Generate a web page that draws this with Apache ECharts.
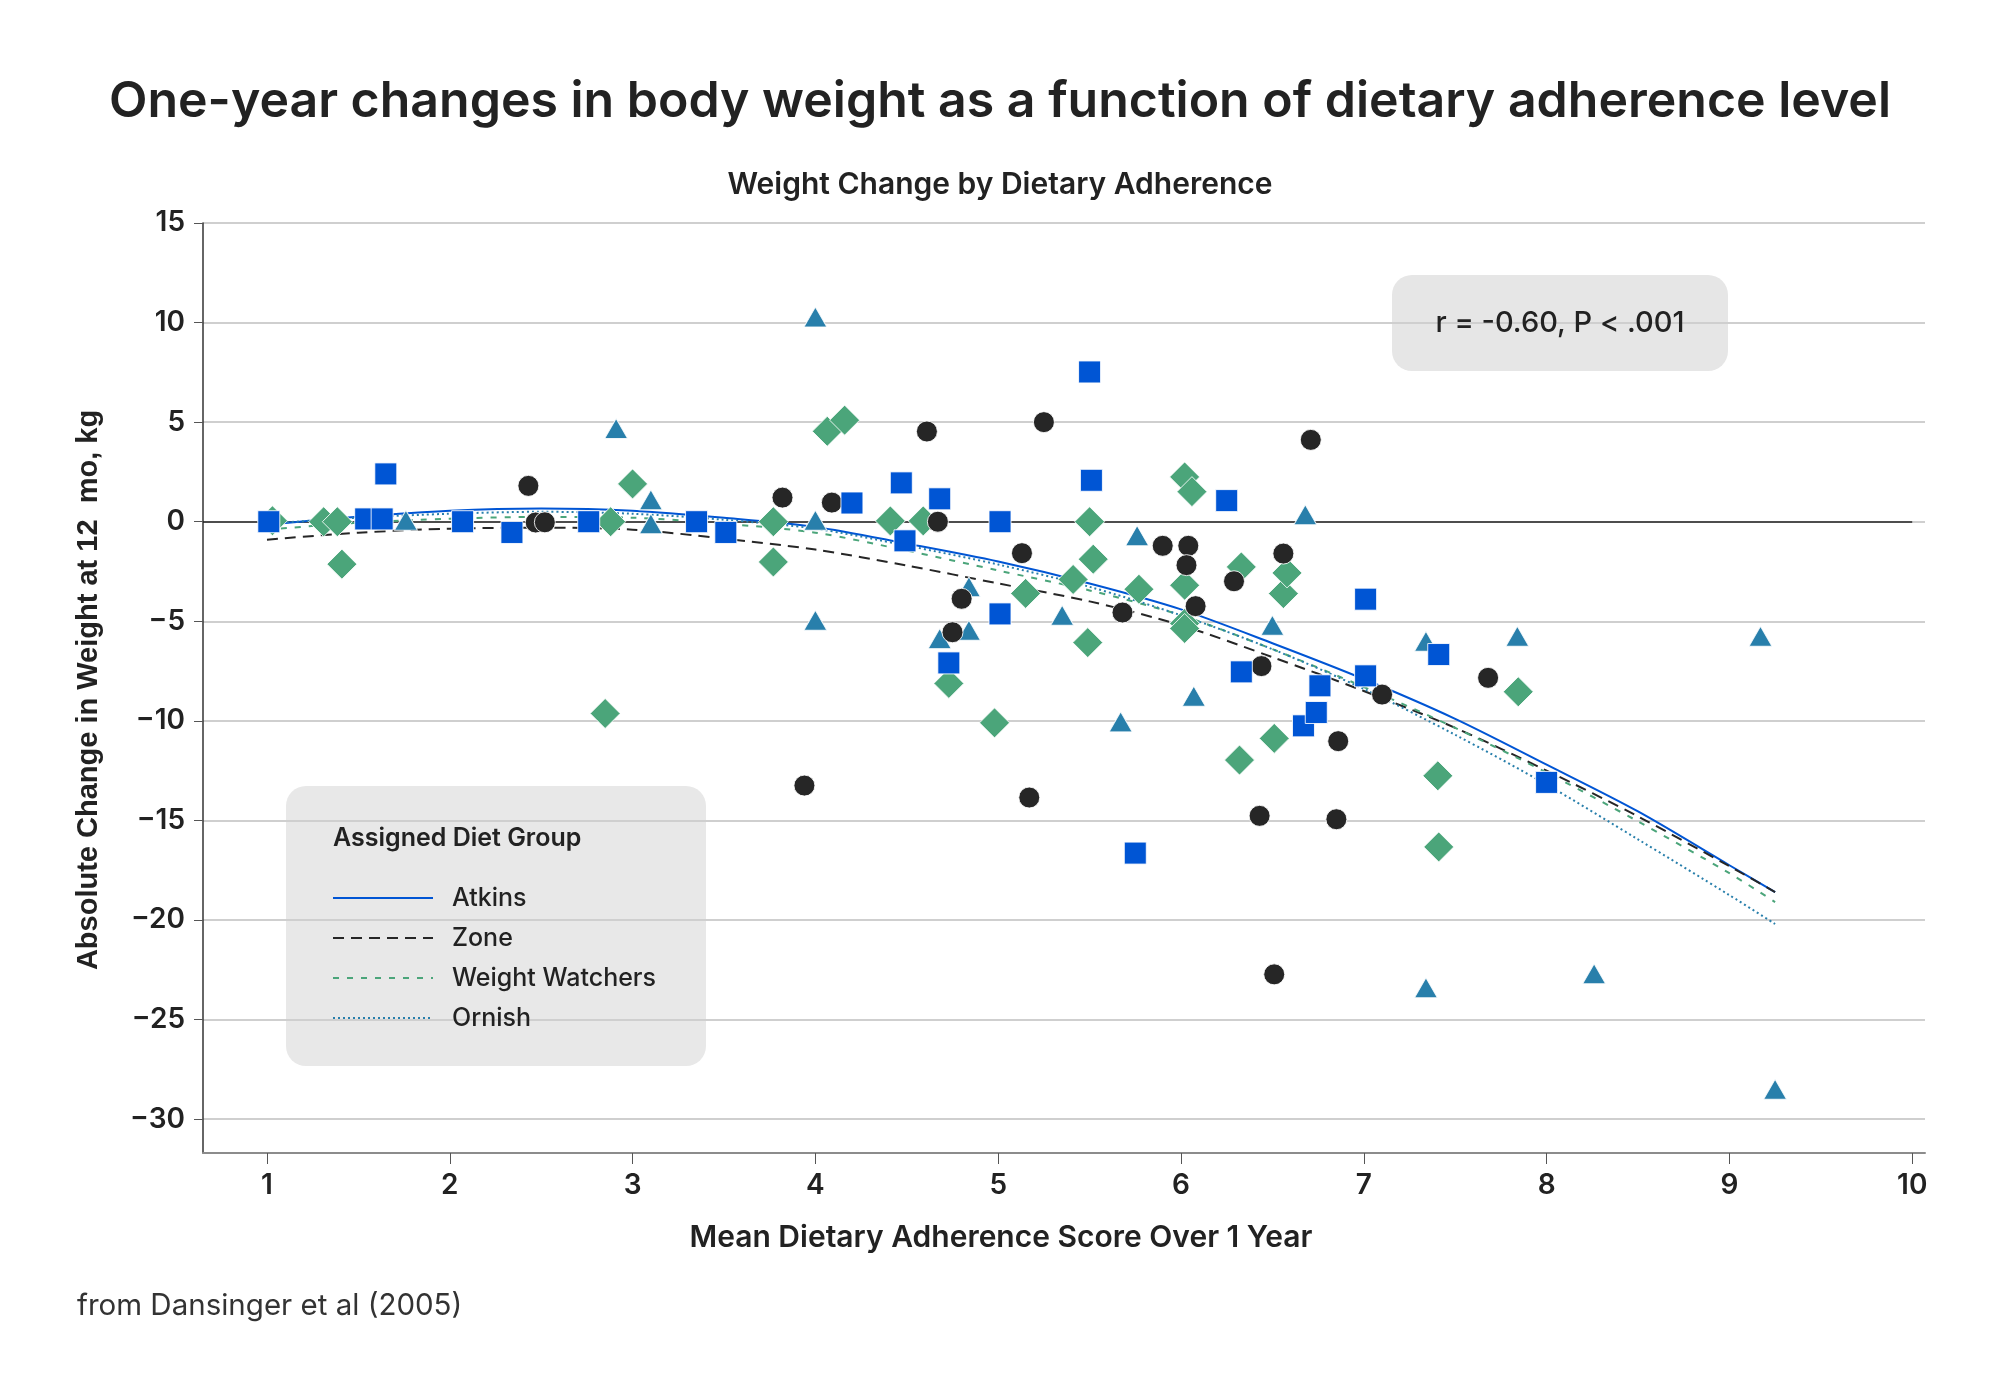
<!DOCTYPE html>
<html><head><meta charset="utf-8">
<script src="https://cdn.jsdelivr.net/npm/echarts@6/dist/echarts.min.js"></script>
<style>html,body{margin:0;padding:0;background:#fff}#chart{width:2000px;height:1393px}</style>
</head><body><div id="chart"></div>
<script>
// ---- data ----
const atkinsPoints = [[1.01,0],[1.54,0.14],[1.63,0.14],[1.65,2.4],[2.07,0],[2.34,-0.54],[2.76,0],[3.35,0],[3.51,-0.54],[4.2,0.94],[4.47,1.95],[4.49,-0.96],[4.68,1.15],[4.73,-7.09],[5.01,0],[5.01,-4.63],[5.5,7.52],[5.51,2.08],[5.75,-16.64],[6.25,1.06],[6.33,-7.54],[6.67,-10.25],[6.74,-9.58],[6.76,-8.24],[7.01,-3.89],[7.01,-7.74],[7.41,-6.67],[8.0,-13.09]];
const zonePoints = [[2.43,1.8],[2.47,-0.04],[2.52,-0.03],[3.82,1.21],[3.94,-13.25],[4.09,0.96],[4.61,4.53],[4.67,0],[4.75,-5.55],[4.8,-3.87],[5.13,-1.58],[5.17,-13.85],[5.25,5.0],[5.68,-4.56],[5.9,-1.21],[6.04,-1.21],[6.03,-2.18],[6.08,-4.24],[6.29,-2.99],[6.44,-7.25],[6.43,-14.77],[6.51,-22.73],[6.56,-1.6],[6.71,4.11],[6.86,-11.02],[6.85,-14.94],[7.1,-8.68],[7.68,-7.84]];
const weightWatchersPoints = [[1.03,0.05],[1.31,0],[1.385,0],[1.41,-2.13],[2.85,-9.63],[2.88,0],[3.0,1.9],[3.77,0],[3.77,-2.02],[4.065,4.54],[4.16,5.1],[4.41,0.04],[4.59,0.04],[4.73,-8.12],[4.98,-10.1],[5.15,-3.6],[5.41,-2.9],[5.5,0],[5.49,-6.07],[5.52,-1.88],[5.77,-3.39],[6.02,2.25],[6.06,1.51],[6.02,-3.19],[6.02,-5.11],[6.02,-5.36],[6.32,-11.97],[6.33,-2.27],[6.51,-10.88],[6.56,-3.61],[6.58,-2.57],[7.405,-12.76],[7.41,-16.33],[7.845,-8.54]];
const ornishPoints = [[1.76,0.07],[2.91,4.68],[3.1,1.1],[3.1,-0.1],[4.0,10.28],[4.0,0.07],[4.0,-4.95],[4.68,-5.87],[4.84,-3.27],[4.84,-5.45],[5.35,-4.7],[5.67,-10.05],[5.76,-0.7],[6.07,-8.76],[6.5,-5.2],[6.68,0.35],[7.34,-6.0],[7.34,-23.4],[7.84,-5.75],[8.26,-22.7],[9.17,-5.75],[9.25,-28.5]];

const fitX = [1,1.5,2,2.5,3,3.5,4,4.5,5,5.5,6,6.5,7,7.5,8,8.5,9,9.25];
const atkinsFit = [-0.15,0.25,0.55,0.66,0.55,0.2,-0.26,-1.1,-2.0,-3.1,-4.4,-6.1,-7.9,-9.9,-12.2,-14.55,-17.25,-18.6];
const zoneFit = [-0.9,-0.55,-0.35,-0.3,-0.4,-0.85,-1.4,-2.2,-3.1,-4.0,-5.2,-6.8,-8.5,-10.35,-12.5,-14.8,-17.3,-18.6];
const weightWatchersFit = [-0.4,-0.05,0.15,0.24,0.2,-0.1,-0.55,-1.45,-2.45,-3.45,-4.7,-6.4,-8.3,-10.35,-12.6,-15.05,-17.65,-19.1];
const ornishFit = [-0.1,0.2,0.4,0.5,0.4,0.1,-0.35,-1.2,-2.15,-3.27,-4.7,-6.4,-8.4,-10.7,-13.2,-15.95,-18.75,-20.2];

const groupNames = ['Atkins','Zone','Weight Watchers','Ornish'];
const xTicks = [1,2,3,4,5,6,7,8,9,10];
const yTicks = [-30,-25,-20,-15,-10,-5,0,5,10,15];
const xRange = [0.65, 10.07];
const yRange = [-31.7, 15];

// ---- styles ----
const FONT = 'Inter, "Noto Sans", sans-serif';
const TXT = '#222222';
const C_ATK = '#0055d4', C_ZONE = '#262626', C_WW = '#4ba57a', C_ORN = '#287fab';

const zip = (xs, ys) => xs.map((x, i) => [x, ys[i]]);
const minusFmt = v => String(v).replace('-', '\u2212');

const lineSeries = (name, ys, color, type, width, z) => ({
  name, type: 'line', data: zip(fitX, ys), smooth: 0.3, symbol: 'none', z,
  lineStyle: { color, type, width }, itemStyle: { color }, silent: true
});
const scatterSeries = (name, pts, color, symbol, size) => ({
  name: name + ' data', type: 'scatter', data: pts, symbol, symbolSize: size, z: 5,
  itemStyle: { color, opacity: 1, borderColor: 'rgba(255,255,255,0.85)', borderWidth: 1 }, silent: true
});

const chart = echarts.init(document.getElementById('chart'));
chart.setOption({
  animation: false,
  backgroundColor: '#ffffff',
  textStyle: { fontFamily: FONT },
  title: [
    { text: 'One-year changes in body weight as a function of dietary adherence level', left: 'center', top: 72,
      textStyle: { fontFamily: FONT, fontSize: 50, fontWeight: 600, color: TXT } },
    { text: 'Weight Change by Dietary Adherence', left: 'center', top: 165,
      textStyle: { fontFamily: FONT, fontSize: 30, fontWeight: 600, color: TXT } }
  ],
  grid: { left: 203, right: 75, top: 223, bottom: 240, containLabel: false },
  xAxis: {
    type: 'value', min: xRange[0], max: xRange[1],
    axisLine: { show: true, onZero: false, lineStyle: { color: '#8c8c8c', width: 2 } },
    axisTick: { show: true, customValues: xTicks, length: 11, lineStyle: { color: '#555', width: 1 } },
    axisLabel: { show: true, customValues: xTicks, fontSize: 28, fontWeight: 600, color: TXT, margin: 19, fontFamily: FONT },
    splitLine: { show: false }
  },
  yAxis: {
    type: 'value', min: yRange[0], max: yRange[1],
    axisLine: { show: true, onZero: false, lineStyle: { color: '#333', width: 1.5 } },
    axisTick: { show: true, customValues: yTicks, length: 9, lineStyle: { color: '#555', width: 1 } },
    axisLabel: { show: true, customValues: yTicks, formatter: minusFmt, fontSize: 28, fontWeight: 600, color: TXT, margin: 18, fontFamily: FONT },
    splitLine: { show: true, lineStyle: { color: '#cfcfcf', width: 2 } }
  },
  legend: {
    data: groupNames, orient: 'vertical', left: 332, top: 885,
    itemWidth: 100, itemHeight: 14, itemGap: 14, padding: 0,
    itemStyle: { opacity: 0, borderWidth: 0 },
    textStyle: { fontFamily: FONT, fontSize: 25, fontWeight: 500, color: TXT, lineHeight: 26, padding: [0,0,0,14] },
    selectedMode: false
  },
  graphic: [
    { type: 'rect', left: 286, top: 786, z: 0, silent: true,
      shape: { width: 420, height: 280, r: 20 }, style: { fill: '#e8e8e8' } },
    { type: 'text', left: 333, top: 826, z: 1, silent: true,
      style: { text: 'Assigned Diet Group', fontFamily: FONT, fontSize: 25, fontWeight: 600, fill: TXT } },
    { type: 'rect', left: 1392, top: 275, z: 0, silent: true,
      shape: { width: 336, height: 96, r: 20 }, style: { fill: '#e6e6e6' } },
    { type: 'text', x: 1560, y: 323, z: 1, silent: true,
      style: { text: 'r = -0.60, P < .001', fontFamily: FONT, fontSize: 29, fontWeight: 500, fill: TXT, align: 'center', verticalAlign: 'middle' } },
    { type: 'text', x: 1001, y: 1238, silent: true,
      style: { text: 'Mean Dietary Adherence Score Over 1 Year', fontFamily: FONT, fontSize: 30, fontWeight: 600, fill: TXT, align: 'center', verticalAlign: 'middle' } },
    { type: 'text', x: 89, y: 690, rotation: Math.PI / 2, silent: true,
      style: { text: 'Absolute Change in Weight at 12  mo, kg', fontFamily: '"Liberation Sans", Arial, sans-serif', fontSize: 29, fontWeight: 'bold', fill: TXT, align: 'center', verticalAlign: 'middle' } },
    { type: 'text', left: 77, top: 1291, silent: true,
      style: { text: 'from Dansinger et al (2005)', fontFamily: FONT, fontSize: 29.5, fontWeight: 400, fill: '#333' } }
  ],
  series: [
    Object.assign(lineSeries('Atkins', atkinsFit, C_ATK, 'solid', 2, 3), {
      markLine: { silent: true, symbol: 'none', label: { show: false }, z: 2,
        lineStyle: { color: '#222', width: 1.5, type: 'solid' },
        data: [[{ coord: [xRange[0], 0] }, { coord: [10, 0] }]] }
    }),
    lineSeries('Zone', zoneFit, C_ZONE, [11, 7], 2, 3),
    lineSeries('Weight Watchers', weightWatchersFit, C_WW, [6, 8], 2, 3),
    lineSeries('Ornish', ornishFit, C_ORN, [2, 3], 2, 3),
    scatterSeries('Ornish', ornishPoints, C_ORN, 'triangle', [23, 20]),
    scatterSeries('Weight Watchers', weightWatchersPoints, C_WW, 'diamond', 30),
    scatterSeries('Zone', zonePoints, C_ZONE, 'circle', 21),
    scatterSeries('Atkins', atkinsPoints, C_ATK, 'rect', 22)
  ]
});
</script></body></html>
